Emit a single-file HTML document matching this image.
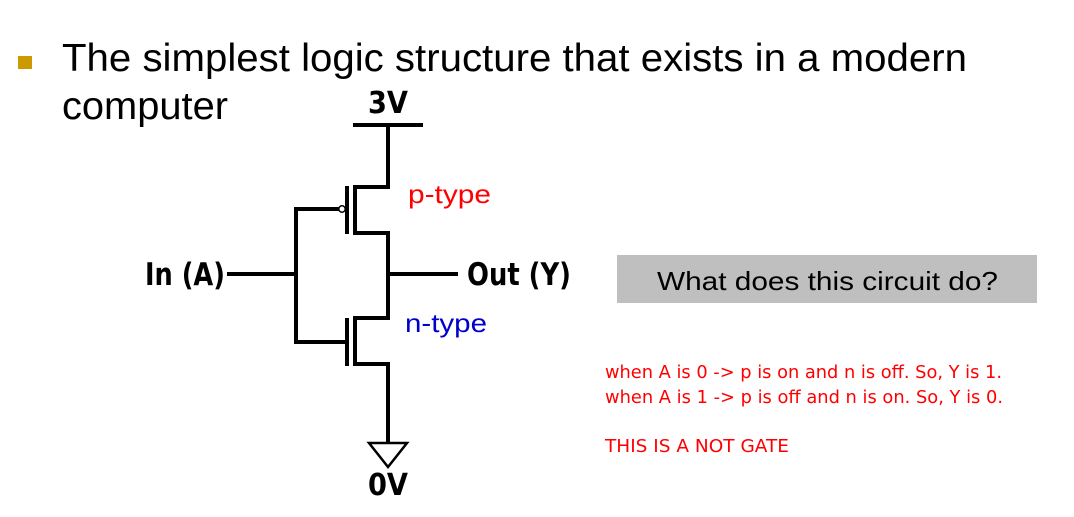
<!DOCTYPE html>
<html><head><meta charset="utf-8"><style>
html,body{margin:0;padding:0;background:#fff;}
svg{display:block;}
</style></head><body>
<svg width="1074" height="517" viewBox="0 0 1074 517" xmlns="http://www.w3.org/2000/svg">
<rect x="18" y="56" width="14" height="13" fill="#cc9900"/>
<g font-family="Liberation Sans, DejaVu Sans, sans-serif" fill="#000">
<text x="62" y="71" font-size="39" textLength="905" lengthAdjust="spacingAndGlyphs">The simplest logic structure that exists in a modern</text>
<text x="62" y="119" font-size="39" textLength="166" lengthAdjust="spacingAndGlyphs">computer</text>
</g>
<g stroke="#000" stroke-width="4" fill="none">
<line x1="353" y1="125" x2="423" y2="125"/>
<polyline points="388,125 388,187 355,187 355,233 388,233 388,318 355,318 355,364 388,364 388,442"/>
<line x1="347" y1="186" x2="347" y2="234"/>
<line x1="347" y1="318" x2="347" y2="366"/>
<polyline points="339,209 296,209 296,342 347,342"/>
<line x1="227" y1="274" x2="296" y2="274"/>
<line x1="388" y1="274" x2="458" y2="274"/>
</g>
<circle cx="342" cy="209" r="3.2" fill="#fff" stroke="#000" stroke-width="1.5"/>
<polygon points="369,443 407,443 388,467" fill="#fff" stroke="#000" stroke-width="2.5"/>
<g font-family="DejaVu Sans, sans-serif" font-weight="bold" fill="#000">
<text x="368" y="113" font-size="30" textLength="40" lengthAdjust="spacingAndGlyphs">3V</text>
<text x="368" y="495" font-size="30" textLength="40" lengthAdjust="spacingAndGlyphs">0V</text>
<text x="145" y="285" font-size="31" textLength="80" lengthAdjust="spacingAndGlyphs">In (A)</text>
<text x="467" y="285" font-size="31" textLength="104" lengthAdjust="spacingAndGlyphs">Out (Y)</text>
</g>
<g font-family="Liberation Sans, sans-serif" font-size="26">
<text x="408" y="203" fill="#ff0000" textLength="83" lengthAdjust="spacingAndGlyphs">p-type</text>
<text x="405" y="332" fill="#0000cc" textLength="82" lengthAdjust="spacingAndGlyphs">n-type</text>
</g>
<rect x="617" y="255" width="420" height="48" fill="#bfbfbf"/>
<text x="657" y="290" font-family="Liberation Sans, sans-serif" font-size="26" fill="#000" textLength="341" lengthAdjust="spacingAndGlyphs">What does this circuit do?</text>
<g font-family="DejaVu Sans, sans-serif" font-size="18" fill="#ff0000">
<text x="605" y="378" textLength="397" lengthAdjust="spacingAndGlyphs">when A is 0 -&gt; p is on and n is off. So, Y is 1.</text>
<text x="605" y="403" textLength="398" lengthAdjust="spacingAndGlyphs">when A is 1 -&gt; p is off and n is on. So, Y is 0.</text>
<text x="605" y="452" textLength="184" lengthAdjust="spacingAndGlyphs">THIS IS A NOT GATE</text>
</g>
</svg>
</body></html>
